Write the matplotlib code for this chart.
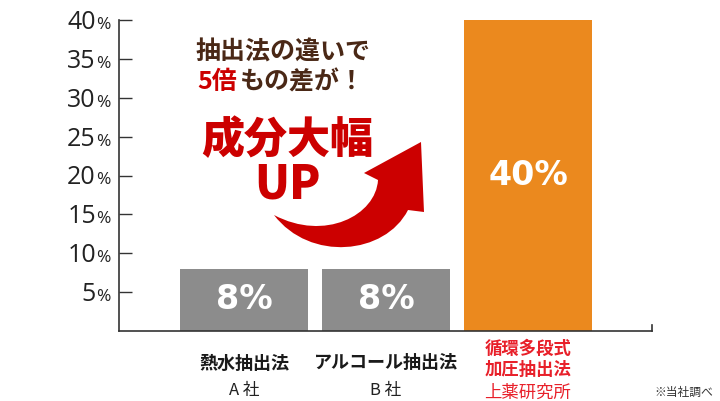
import numpy as np
import matplotlib
matplotlib.use("Agg")
import matplotlib.pyplot as plt
import matplotlib.transforms as mtransforms
from matplotlib.path import Path
from matplotlib.patches import PathPatch

plt.rcParams['font.family'] = ['Noto Sans CJK JP', 'DejaVu Sans']

# data
methods = ["熱水抽出法", "アルコール抽出法", "循環多段式\n加圧抽出法"]
makers = ["A 社", "B 社", "上薬研究所"]
values = [8, 8, 40]
bar_text = ["8%", "8%", "40%"]
yticks = [5, 10, 15, 20, 25, 30, 35, 40]

gray = "#8c8c8c"
orange = "#eb891e"
red_lbl = "#e8202a"
brown = "#4a2816"
red = "#cc0000"

W, H = 720, 401
fig = plt.figure(figsize=(W / 100, H / 100), dpi=100)
ax = fig.add_axes([119 / W, 1 - 331 / H, 533 / W, 311 / H])

pos = np.arange(len(values))
ax.bar(pos, values, width=0.9, color=[gray, gray, orange], linewidth=0)
ax.set_xlim(-0.88, 2.873)
ax.set_ylim(0, 40)

for x, v, t in zip(pos, values, bar_text):
    ax.text(x, v / 2, t, ha='center', va='center', color='white',
            fontsize=24, fontweight='bold', family='DejaVu Sans')

# axes styling
for s in ['top', 'right']:
    ax.spines[s].set_visible(False)
for s in ['left', 'bottom']:
    ax.spines[s].set_color('#333333')
    ax.spines[s].set_linewidth(1.2)
ax.set_xticks([])
ax.set_yticks(yticks)
ax.set_yticklabels([])
ax.tick_params(axis='y', direction='in', length=9.5, width=1.0, color='#333333')
ax.plot([1, 1], [0, 6 / 311], transform=ax.transAxes, clip_on=False,
        color='#333333', lw=1.2)

# y tick labels: big number + small %
tr = mtransforms.offset_copy(ax.get_yaxis_transform(), fig=fig, y=-9, units='dots')
for v in yticks:
    ax.text(-0.0435, v, str(v), transform=tr, ha='right', va='baseline',
            fontsize=18, family='Open Sans', color='#222222')
    ax.text(-0.0425, v, "%", transform=tr, ha='left', va='baseline',
            fontsize=12.5, family='Open Sans', color='#222222')

# category labels
lab_tr = ax.get_xaxis_transform()
def ay(py):
    return (331 - py) / 311

for i in range(2):
    ax.text(pos[i], ay(363), methods[i], transform=lab_tr, ha='center', va='center',
            fontsize=13, fontweight='bold', color='#1a1a1a', clip_on=False)
    ax.text(pos[i], ay(390), makers[i], transform=lab_tr, ha='center', va='center',
            fontsize=12, color='#222222', clip_on=False)
l1, l2 = methods[2].split("\n")
ax.text(pos[2], ay(349), l1, transform=lab_tr, ha='center', va='center',
        fontsize=12.5, fontweight='bold', color=red_lbl, clip_on=False)
ax.text(pos[2], ay(370), l2, transform=lab_tr, ha='center', va='center',
        fontsize=12.5, fontweight='bold', color=red_lbl, clip_on=False)
ax.text(pos[2], ay(393), makers[2], transform=lab_tr, ha='center', va='center',
        fontsize=12.5, color=red_lbl, clip_on=False)

fig.text(684 / W, 1 - 392 / H, "※当社調べ", ha='center', va='center',
         fontsize=8.5, color='#333333')

# headline texts
fig.text(283 / W, 1 - 52 / H, "抽出法の違いで", ha='center', va='center',
         fontsize=18, fontweight='bold', color=brown)
t5 = fig.text(197 / W, 1 - 82 / H, "5倍", ha='left', va='center',
              fontsize=18, fontweight='bold', color=red)
ax.annotate("もの差が！", xy=(1, 0.5), xycoords=t5, xytext=(2, 0),
            textcoords='offset points', ha='left', va='center',
            fontsize=18, fontweight='bold', color=brown, annotation_clip=False)

fig.text(287 / W, 1 - 140 / H, "成分大幅", ha='center', va='center',
         fontsize=31, fontweight='heavy', color=red)
fig.text(287 / W, 1 - 185 / H, "UP", ha='center', va='center',
         fontsize=33, fontweight='heavy', color=red)

# curved arrow (pixel coords of the picture)
px = mtransforms.Affine2D().scale(1 / W, -1 / H).translate(0, 1) + fig.transFigure
verts = [(274, 215), (310, 262), (385, 255), (408, 210),
         (424, 212), (421, 142), (364, 173), (378, 180),
         (376, 215), (325, 242), (274, 215), (274, 215)]
codes = [Path.MOVETO, Path.CURVE4, Path.CURVE4, Path.CURVE4,
         Path.LINETO, Path.LINETO, Path.LINETO, Path.LINETO,
         Path.CURVE4, Path.CURVE4, Path.CURVE4, Path.CLOSEPOLY]
fig.patches.append(PathPatch(Path(verts, codes), facecolor=red, edgecolor='none',
                             transform=px))

fig.savefig("out.png", dpi=100)
